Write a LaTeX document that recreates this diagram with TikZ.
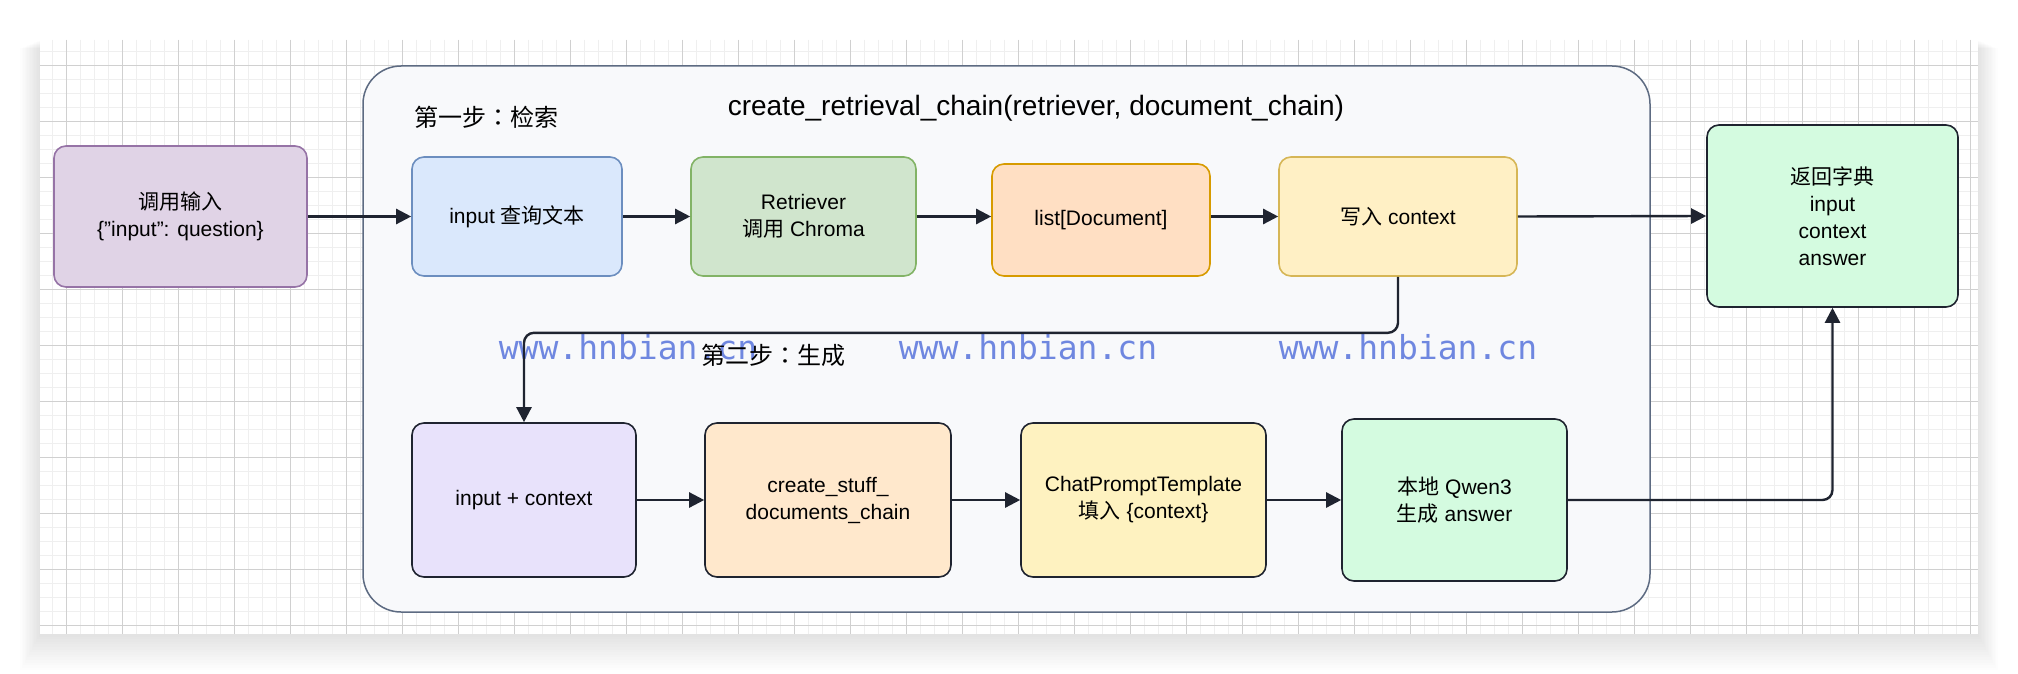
\documentclass[tikz,border=0pt]{standalone}
\usepackage{fontspec}
\setmainfont{Liberation Sans}
\newfontfamily\cjk{Noto Sans CJK SC}
\newfontfamily\cjkstep{Noto Sans CJK TC}
\newfontfamily\wmfont{DejaVu Sans Mono}
\usetikzlibrary{arrows.meta, positioning}

\definecolor{inkdark}{HTML}{1F2430}
\definecolor{gridmajor}{HTML}{D0D0D0}
\definecolor{gridminor}{HTML}{EFEFEF}
\definecolor{chainfill}{HTML}{F8F9FB}
\definecolor{chaindraw}{HTML}{5D6B82}
\definecolor{wmblue}{HTML}{6F87E0}
\definecolor{callfill}{HTML}{E0D3E6}
\definecolor{calldraw}{HTML}{9673A6}
\definecolor{queryfill}{HTML}{DAE8FC}
\definecolor{querydraw}{HTML}{6C8EBF}
\definecolor{retrfill}{HTML}{D0E5CD}
\definecolor{retrdraw}{HTML}{82B366}
\definecolor{listfill}{HTML}{FFDFC3}
\definecolor{listdraw}{HTML}{D79B00}
\definecolor{writefill}{HTML}{FFF0C5}
\definecolor{writedraw}{HTML}{D6B656}
\definecolor{mintfill}{HTML}{D4FBE0}
\definecolor{ctxfill}{HTML}{E8E2FB}
\definecolor{stufffill}{HTML}{FFE8CC}
\definecolor{promptfill}{HTML}{FEF2C0}

\tikzset{
  box/.style={draw, rounded corners=6pt, line width=0.8pt, align=center,
    inner sep=0pt, font=\fontsize{10.5pt}{13.5pt}\selectfont},
  flow/.style={draw=inkdark, line width=1.2pt, -{Triangle[length=7.5pt, width=7.5pt]}},
  steplabel/.style={anchor=west, inner sep=0pt, font=\fontsize{12pt}{14pt}\selectfont\cjkstep},
  watermark/.style={anchor=base, inner sep=0pt, text=wmblue,
    font=\fontsize{16.5pt}{18pt}\selectfont\wmfont},
}

\begin{document}
\begin{tikzpicture}[x=0.5pt, y=-0.5pt]
  \useasboundingbox (0,0) rectangle (2018,674);
  \fill[white] (0,0) rectangle (2018,674);
  % shadow under the canvas
  \foreach \s in {1,...,14}
    \fill[black, opacity=0.008] ({40-1.4*\s},{40+0.6*\s}) rectangle ({1978+1.4*\s},{634+2.6*\s});
  \fill[white] (40,40) rectangle (1978,634);

  % grid
  \begin{scope}
    \clip (40,40) rectangle (1978,634);
    \foreach \k in {-1,...,136}
      \draw[gridminor, line width=0.6pt] ({66.8+14*\k},40) -- ({66.8+14*\k},634);
    \foreach \k in {-1,...,41}
      \draw[gridminor, line width=0.6pt] (40,{65.3+14*\k}) -- (1978,{65.3+14*\k});
    \foreach \k in {0,...,34}
      \draw[gridmajor, line width=0.6pt] ({66.8+56*\k},40) -- ({66.8+56*\k},634);
    \foreach \k in {0,...,10}
      \draw[gridmajor, line width=0.6pt] (40,{65.3+56*\k}) -- (1978,{65.3+56*\k});
  \end{scope}

  % outer chain
  \node[draw=chaindraw, fill=chainfill, line width=0.75pt, rounded corners=19pt,
    minimum width=643.5pt, minimum height=273pt, inner sep=0pt] (chain) at (1006.5,339) {};
  \node[inner sep=0pt, font=\fontsize{14pt}{16pt}\selectfont] (title) at (1036,108)
    {create\_retrieval\_chain(retriever, document\_chain)};
  \node[steplabel] (step1) at (414,117) {第一步：检索};

  % first row
  \node[box, fill=callfill, draw=calldraw, minimum width=126.5pt, minimum height=70.5pt]
    (callin) at (180.5,216.5) {{\cjk 调用输入}\\\{\symbol{34}input\symbol{34}: question\}};
  \node[box, fill=queryfill, draw=querydraw, minimum width=105pt, minimum height=59.5pt]
    (query) at (517,216.5) {input {\cjk 查询文本}};
  \node[box, fill=retrfill, draw=retrdraw, minimum width=112.5pt, minimum height=59.5pt]
    (retriever) at (803.5,216.5) {Retriever\\{\cjk 调用} Chroma};
  \node[box, fill=listfill, draw=listdraw, minimum width=109pt, minimum height=56pt]
    (doclist) at (1101,220) {list[Document]};
  \node[box, fill=writefill, draw=writedraw, minimum width=119pt, minimum height=59.5pt]
    (writectx) at (1398,216.5) {{\cjk 写入} context};
  \node[box, fill=mintfill, draw=inkdark, minimum width=125.5pt, minimum height=91pt]
    (result) at (1832.5,216) {{\cjk 返回字典}\\input\\context\\answer};

  % watermarks
  \node[watermark] (wm1) at (628,359) {www.hnbian.cn};
  \node[watermark] (wm2) at (1028,359) {www.hnbian.cn};
  \node[watermark] (wm3) at (1408,359) {www.hnbian.cn};

  \node[steplabel] (step2) at (701,355) {第二步：生成};

  % second row
  \node[box, fill=ctxfill, draw=inkdark, minimum width=112pt, minimum height=77pt]
    (inctx) at (524,500) {input + context};
  \node[box, fill=stufffill, draw=inkdark, minimum width=123pt, minimum height=77pt]
    (stuff) at (828,500) {create\_stuff\_\\documents\_chain};
  \node[box, fill=promptfill, draw=inkdark, minimum width=122.5pt, minimum height=77pt]
    (prompt) at (1143.5,500) {ChatPromptTemplate\\{\cjk 填入} \{context\}};
  \node[box, fill=mintfill, draw=inkdark, minimum width=112.5pt, minimum height=81pt]
    (qwen) at (1454.5,500) {{\cjk 本地} Qwen3\\{\cjk 生成} answer};

  % connectors
  \draw[flow] (callin.east) -- (query.west);
  \draw[flow] (query.east) -- (retriever.west);
  \draw[flow] (retriever.east) -- (retriever.east -| doclist.west);
  \draw[flow] (doclist.east |- writectx.west) -- (writectx.west);
  \draw[flow] (writectx.east) -- (result.west);
  \draw[flow, rounded corners=5pt] (writectx.south) -- ++(0,56) -| (inctx.north);
  \draw[flow] (inctx.east) -- (stuff.west);
  \draw[flow] (stuff.east) -- (prompt.west);
  \draw[flow] (prompt.east) -- (qwen.west);
  \draw[flow, rounded corners=5pt] (qwen.east) -| (result.south);
\end{tikzpicture}
\end{document}
